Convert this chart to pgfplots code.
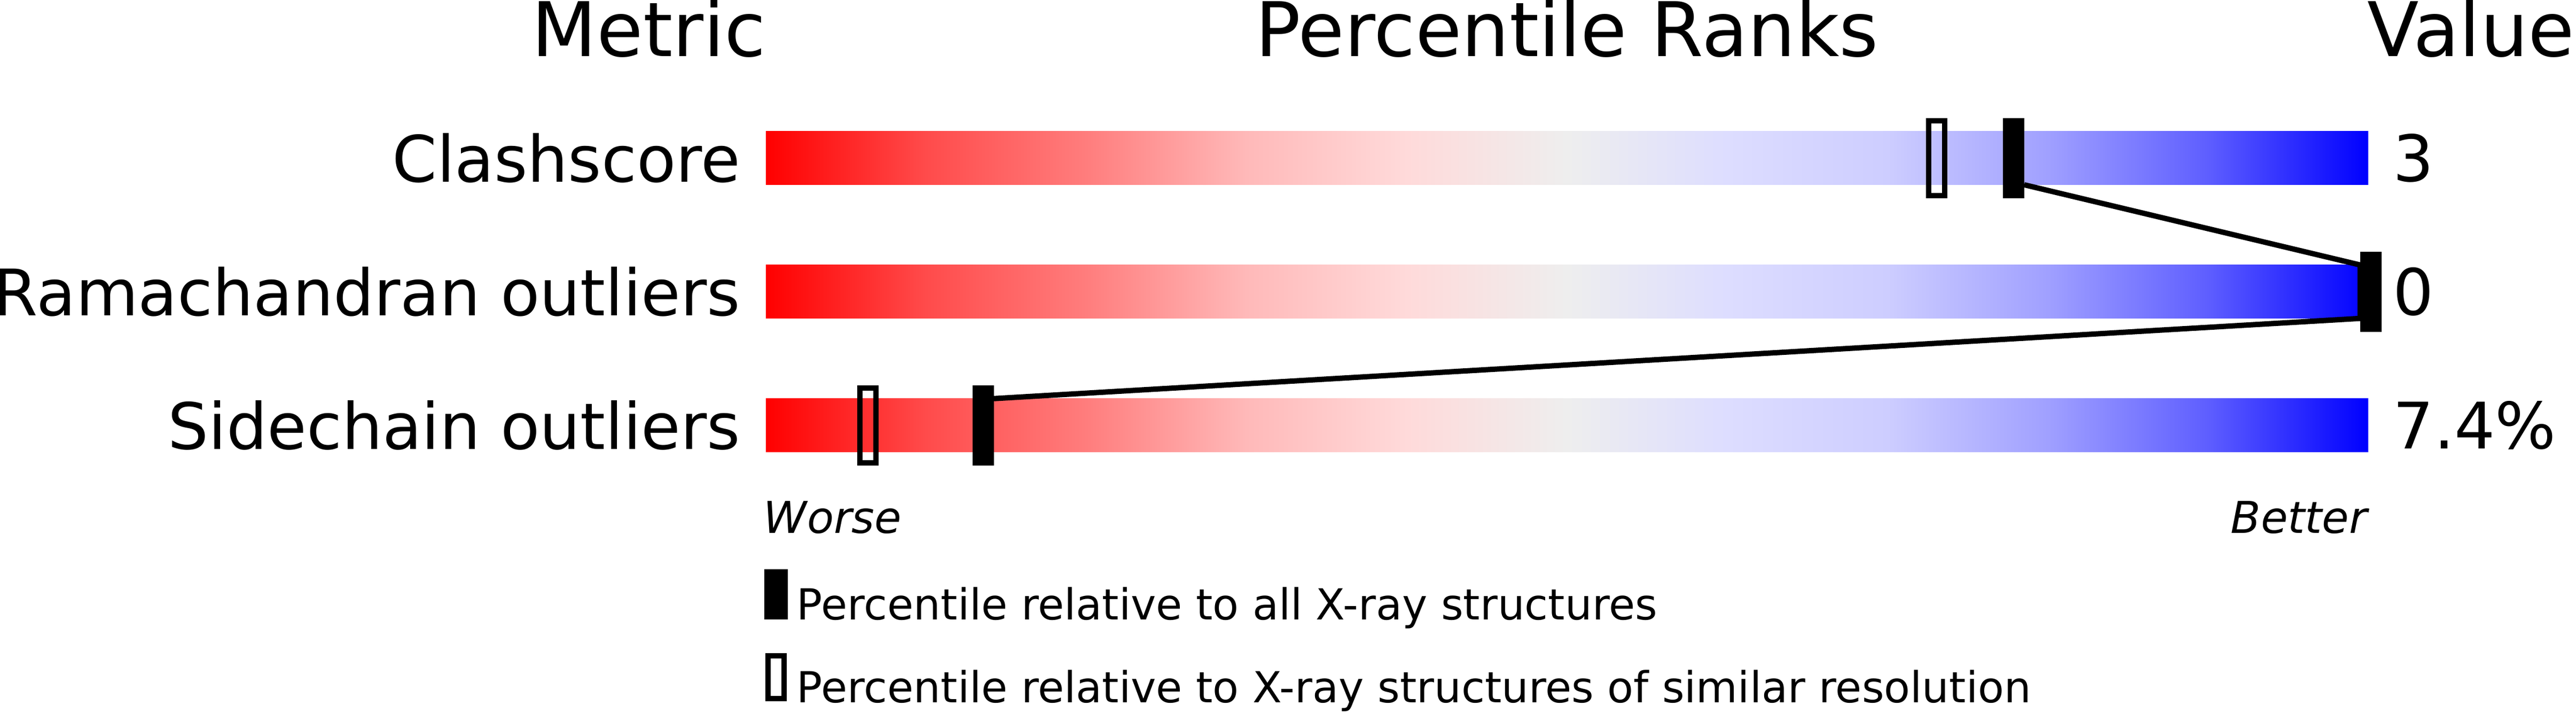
\documentclass[border=0pt]{standalone}
\usepackage{fontspec}
\setmainfont{DejaVu Sans}
\usepackage{pgfplots}
\pgfplotsset{compat=1.18}

% slider colours, red (worse) to blue (better)
\definecolor{s10}{RGB}{255,75,75}
\definecolor{s20}{RGB}{255,125,125}
\definecolor{s30}{RGB}{255,185,185}
\definecolor{s40}{RGB}{255,218,218}
\definecolor{s50}{RGB}{238,238,238}
\definecolor{s60}{RGB}{221,221,255}
\definecolor{s70}{RGB}{205,205,255}
\definecolor{s80}{RGB}{160,160,255}
\definecolor{s90}{RGB}{94,94,255}
\pgfdeclarehorizontalshading{slider}{100bp}{color(0bp)=(red); color(25bp)=(red);
  color(30bp)=(s10); color(35bp)=(s20); color(40bp)=(s30); color(45bp)=(s40);
  color(50bp)=(s50); color(55bp)=(s60); color(60bp)=(s70); color(65bp)=(s80);
  color(70bp)=(s90); color(75bp)=(blue); color(100bp)=(blue)}

% percentile markers
\pgfdeclareplotmark{pfill}{\pgfpathrectangle{\pgfpoint{-1.5pt}{-7.5pt}}{\pgfpoint{4pt}{15pt}}\pgfusepathqfill}
\pgfdeclareplotmark{phollow}{\pgfsetlinewidth{1pt}\pgfpathrectangle{\pgfpoint{-1pt}{-7pt}}{\pgfpoint{3pt}{14pt}}\pgfusepathqstroke}

\newcommand{\lab}{\fontsize{12}{14}\selectfont}
\newcommand{\head}{\fontsize{14.1}{17}\selectfont}
\newcommand{\note}{\fontsize{8.2}{10}\selectfont\itshape}

\begin{document}
\begin{tikzpicture}
\begin{axis}[
  scale only axis,
  width=482.3pt, height=133.3pt,
  xmin=-47.8, xmax=112.97,
  ymin=-1.1828, ymax=4.1492,
  y dir=reverse,
  hide axis,
  clip=false,
  legend cell align=left,
  legend style={at={(axis cs:-0.167,3.07)}, anchor=north west,
    draw=none, fill=none, inner sep=0pt, row sep=4.7pt,
    nodes={inner sep=0pt},
    font=\fontsize{8}{10}\selectfont,
    /tikz/every odd column/.append style={column sep=1.7pt}},
]
% gradient bars
\addplot[forget plot, draw=none, shade, shading=slider] coordinates {(0,-0.2) (100,-0.2) (100,0.2) (0,0.2) (0,-0.2)};
\addplot[forget plot, draw=none, shade, shading=slider] coordinates {(0,0.8) (100,0.8) (100,1.2) (0,1.2) (0,0.8)};
\addplot[forget plot, draw=none, shade, shading=slider] coordinates {(0,1.8) (100,1.8) (100,2.2) (0,2.2) (0,1.8)};
% line joining the percentiles relative to all structures
\addplot[forget plot, black, line width=1pt] coordinates {(78.53,0.2) (99.5,0.8) (99.5,1.2) (14.23,1.8)};
% percentile relative to all X-ray structures
\addplot[black, only marks, mark=pfill,
  legend image code/.code={\fill[black] (0pt,-2.04pt) rectangle (4pt,6.96pt);}]
  coordinates {(77.7,0) (100,1) (13.4,2)};
\addlegendentry{Percentile relative to all X-ray structures}
% percentile relative to structures of similar resolution
\addplot[black, only marks, mark=phollow,
  legend image code/.code={\draw[black, line width=1pt] (0.5pt,-1.54pt) rectangle (3.5pt,6.46pt);}]
  coordinates {(72.9,0) (6.2,2)};
\addlegendentry{Percentile relative to X-ray structures of similar resolution}

\node[anchor=base east, inner sep=0pt, font=\head] at (axis cs:0.07,-0.759) {Metric};
\node[anchor=base, inner sep=0pt, font=\head] at (axis cs:50,-0.759) {Percentile Ranks};
\node[anchor=base west, inner sep=0pt, font=\head] at (axis cs:99.9,-0.759) {Value};

\node[anchor=east, inner sep=0pt, font=\lab] at (axis cs:-1.53,0) {Clashscore};
\node[anchor=east, inner sep=0pt, font=\lab] at (axis cs:-1.53,1) {Ramachandran outliers};
\node[anchor=east, inner sep=0pt, font=\lab] at (axis cs:-1.53,2) {Sidechain outliers};

\node[anchor=west, inner sep=0pt, font=\lab] at (axis cs:101.5,0) {3};
\node[anchor=west, inner sep=0pt, font=\lab] at (axis cs:101.5,1) {0};
\node[anchor=west, inner sep=0pt, font=\lab] at (axis cs:101.5,2) {7.4\%};

\node[anchor=base west, inner sep=0pt, font=\note] at (axis cs:-0.2,2.805) {Worse};
\node[anchor=base east, inner sep=0pt, font=\note] at (axis cs:100,2.805) {Better};
\end{axis}
\pgfresetboundingbox
\useasboundingbox (current axis.south west) rectangle (current axis.north east);
\end{tikzpicture}
\end{document}
